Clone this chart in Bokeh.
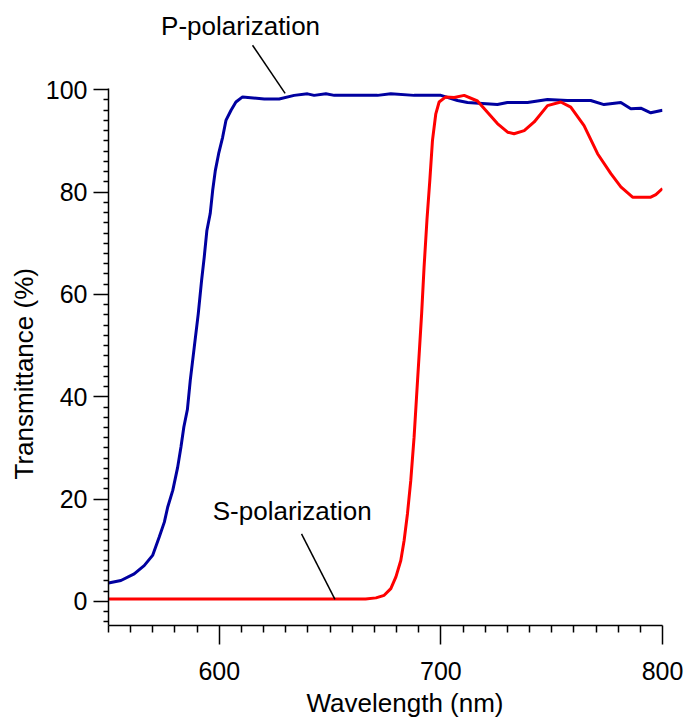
import math
from bokeh.plotting import figure
from bokeh.models import FixedTicker, Label, Arrow, Title
from bokeh.embed import file_html
from bokeh.resources import INLINE

# ---- data ----
wl_p = [550, 555.6, 561.6, 566.1, 569.9, 572.9, 575.2, 576.7, 579.0, 581.2, 582.7, 584.0,
        585.6, 586.9, 588.7, 590.5, 592.0, 593.2, 594.4, 595.9, 597.0, 598.2, 599.7, 601.5,
        603.0, 605.3, 607.5, 610.5, 620.3, 627.0, 633.8, 639.8, 642.8, 648.1, 651.9, 671.4,
        677.4, 687.9, 700, 707.5, 712, 725.5, 730, 739.1, 748.1, 757.1, 767.6, 773.6, 781.2,
        785.7, 790.2, 794.7, 800]
t_p = [3.6, 4.1, 5.4, 7.0, 9.0, 12.6, 15.5, 18.4, 21.7, 26.2, 30.2, 34.1,
       37.5, 43.2, 49.7, 56.2, 62.7, 67.3, 72.5, 75.8, 80.3, 84.2, 87.5, 90.7,
       94.0, 96.0, 97.6, 98.6, 98.2, 98.2, 98.9, 99.2, 98.9, 99.2, 98.9, 98.9,
       99.2, 98.9, 98.9, 97.9, 97.5, 97.1, 97.5, 97.5, 98.1, 97.9, 97.9, 97.1, 97.5,
       96.3, 96.4, 95.5, 96.0]

wl_s = [550, 660, 666, 670.7, 674.4, 677.4, 679.7, 681.9, 683.4, 684.9, 686.4, 687.9,
        689.0, 690.2, 691.3, 692.4, 693.7, 695.0, 696.2, 697.7, 699.2, 702.2, 706, 710.5,
        716.5, 721.0, 725.5, 730.1, 733.0, 737.6, 742.1, 748.1, 754.1, 758.6, 764.6, 770.7,
        776.7, 781.2, 786.5, 794.7, 797, 800]
t_s = [0.5, 0.5, 0.5, 0.7, 1.2, 2.5, 4.8, 8.0, 11.9, 17.1, 23.6, 32.1,
       39.9, 48.4, 56.2, 65.3, 74.5, 82.3, 90.1, 95.3, 97.6, 98.6, 98.5, 98.9,
       97.8, 95.6, 93.4, 91.7, 91.4, 92.0, 93.7, 96.9, 97.6, 96.6, 93.0, 87.5,
       83.6, 81.0, 79.0, 79.0, 79.5, 80.7]

x_major = [600, 700, 800]
x_minor = [v for v in range(550, 800, 10) if v not in x_major]
y_major = [0, 20, 40, 60, 80, 100]
y_minor = [v for v in range(-4, 100, 2) if v not in y_major]

FONT = "Liberation Sans"

p = figure(width=689, height=721, x_range=(550, 800), y_range=(-4.7, 117.05),
           output_backend="svg", toolbar_location=None,
           min_border_left=108, min_border_right=27, min_border_top=2, min_border_bottom=96)
p.outline_line_color = None
p.grid.visible = False
p.background_fill_color = "white"
p.border_fill_color = "white"

p.line(wl_p, t_p, line_color="#0000A0", line_width=3)
p.line(wl_s, t_s, line_color="#FF0000", line_width=3)

# axes
p.xaxis.ticker = FixedTicker(ticks=x_major, minor_ticks=x_minor)
p.yaxis.ticker = FixedTicker(ticks=y_major, minor_ticks=y_minor)
p.yaxis.bounds = (-4.7, 100.25)
for ax in (p.xaxis, p.yaxis):
    ax.axis_line_color = "black"
    ax.axis_line_width = 1.5
    ax.major_tick_line_color = "black"
    ax.major_tick_line_width = 1.5
    ax.minor_tick_line_color = "black"
    ax.minor_tick_line_width = 1.5
    ax.major_tick_in = 0
    ax.minor_tick_in = 0
    ax.major_label_text_font = FONT
    ax.major_label_text_font_size = "25px"
    ax.major_label_text_color = "black"
p.xaxis.major_tick_out = 19
p.xaxis.minor_tick_out = 7
p.xaxis.major_label_standoff = 17
p.yaxis.major_tick_out = 15
p.yaxis.minor_tick_out = 5
p.yaxis.major_label_standoff = 6

# axis titles
p.add_layout(Title(text="Wavelength (nm)", align="left", offset=198, standoff=6,
                   text_font=FONT, text_font_size="26px", text_font_style="normal",
                   text_color="black"), "below")
p.add_layout(Title(text="Transmittance (%)", align="left", offset=146, standoff=8,
                   text_font=FONT, text_font_size="26px", text_font_style="normal",
                   text_color="black"), "left")

# series annotations with leader lines
p.add_layout(Label(x=609.6, y=112.5, text="P-polarization", text_align="center",
                   text_baseline="alphabetic", text_font=FONT, text_font_size="26px",
                   text_color="black"))
p.add_layout(Label(x=632.9, y=17.6, text="S-polarization", text_align="center",
                   text_baseline="alphabetic", text_font=FONT, text_font_size="26px",
                   text_color="black"))
p.add_layout(Arrow(x_start=615.0, y_start=108.7, x_end=629.7, y_end=99.3, end=None,
                   line_color="black", line_width=1.5))
p.add_layout(Arrow(x_start=637.1, y_start=13.2, x_end=652.2, y_end=0.4, end=None,
                   line_color="black", line_width=1.5))

open("out.html", "w").write(file_html(p, INLINE))
